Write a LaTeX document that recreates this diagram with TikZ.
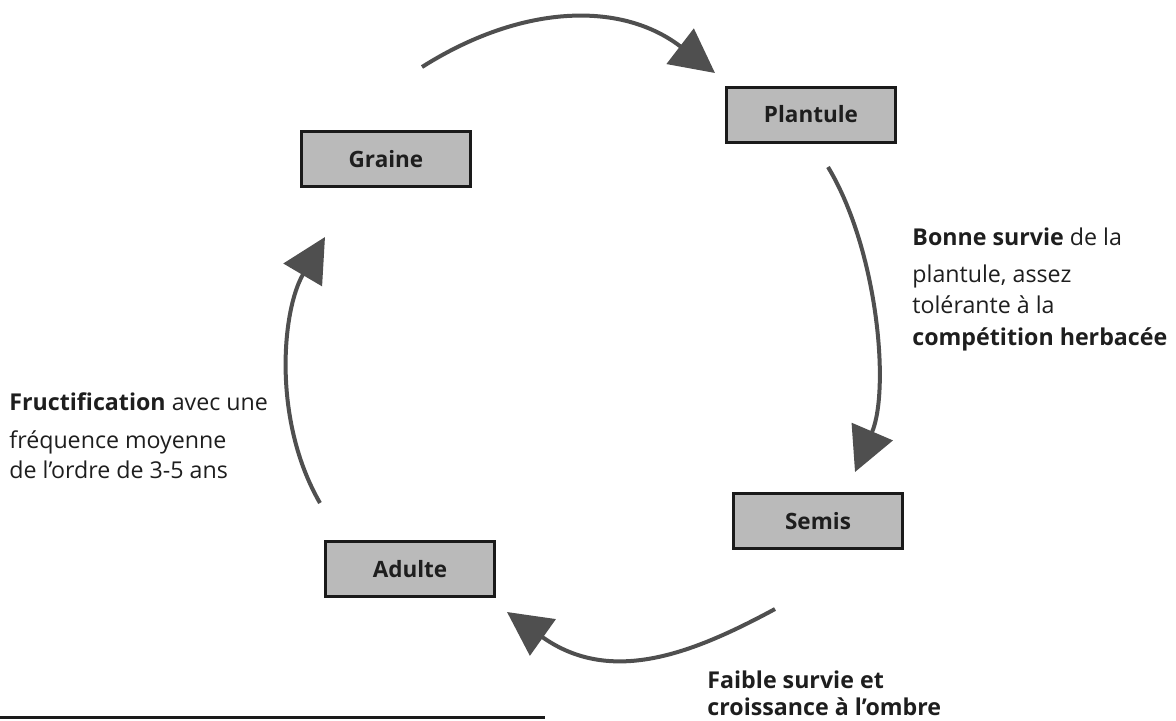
\documentclass[tikz,border=0pt]{standalone}
\usepackage{fontspec}
\setsansfont{Open Sans}
\usetikzlibrary{arrows.meta}
\definecolor{boxFill}{HTML}{BABABA}
\definecolor{boxBorder}{HTML}{1A1A1A}
\definecolor{arrowColor}{HTML}{4F4F4F}
\definecolor{textMain}{HTML}{1E1E1E}
\tikzset{
  stage/.style={draw=boxBorder, fill=boxFill, line width=1.5pt,
    minimum width=84.5pt, minimum height=27.5pt, inner sep=0pt,
    font=\sffamily\fontsize{11.25pt}{14pt}\selectfont\bfseries, text=textMain},
  note/.style={anchor=base west, inner sep=0pt, align=left,
    font=\sffamily\fontsize{11.6pt}{15.75pt}\selectfont, text=textMain},
  cyclearrow/.style={-{Triangle[length=22pt, width=22pt]}, line width=2pt, color=arrowColor},
}

\begin{document}
\begin{tikzpicture}[x=0.5pt, y=-0.5pt]
  \useasboundingbox (0,0) rectangle (1176,720);

  % === Stages of the cycle ===
  \node[stage] (graine) at (386,159) {Graine};
  \node[stage] (plantule) at (811,114.5) {Plantule};
  \node[stage] (semis) at (818,521) {Semis};
  \node[stage] (adulte) at (410,569) {Adulte};

  % === Free ends of the arrows ===
  \coordinate (graine-out) at (422,67);
  \coordinate (plantule-in) at (715,73);
  \coordinate (plantule-out) at (828,167);
  \coordinate (semis-in) at (855,472);
  \coordinate (semis-out) at (775,609);
  \coordinate (adulte-in) at (507,612);
  \coordinate (adulte-out) at (320,503);
  \coordinate (graine-in) at (325,237);

  % === Arrows round the cycle ===
  \draw[cyclearrow] (graine-out) .. controls (520,5) and (620,0) .. (plantule-in);
  \draw[cyclearrow] (plantule-out) .. controls (878,250) and (890,390) .. (semis-in);
  \draw[cyclearrow] (semis-out) .. controls (690,655) and (610,685) .. (adulte-in);
  \draw[cyclearrow] (adulte-out) .. controls (272,420) and (282,310) .. (graine-in);

  % === Transition notes (placed by the baseline of their last line) ===
  \node[note] (bonne) at (912,345) {\textbf{Bonne survie} de la\\[2.75pt]
    plantule, assez\\
    tolérante à la\\
    \textbf{compétition herbacée}};
  \node[note] (fructif) at (9,478) {\textbf{Fructification} avec une\\[3.25pt]
    fréquence moyenne\\[-0.75pt]
    de l’ordre de 3-5 ans};
  \node[note] (faible) at (707,715) {\textbf{Faible survie et}\\[-2.25pt]
    \textbf{croissance à l’ombre}};

  % rule along the bottom
  \draw[line width=1.5pt, boxBorder] (0,717) -- (545,717);

\end{tikzpicture}
\end{document}
